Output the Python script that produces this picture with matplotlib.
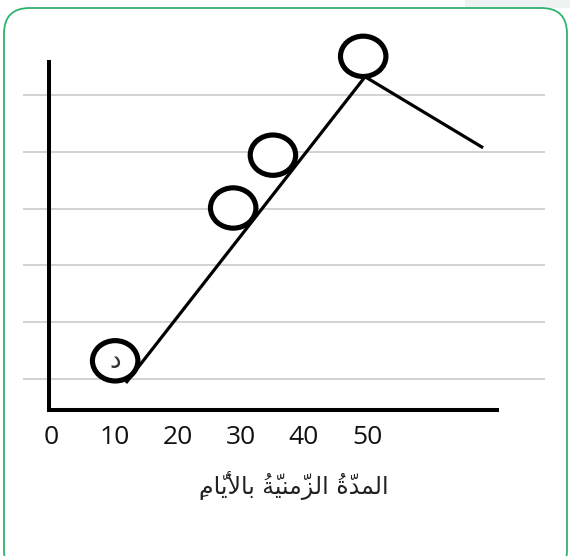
import matplotlib
matplotlib.use("Agg")
import matplotlib.pyplot as plt
from matplotlib.patches import Ellipse, FancyBboxPatch, Rectangle

# line of the graph (days, value)
line_x = [11.8, 49.7, 68.4]
line_y = [0.93, 6.32, 5.07]

# circled points
circle_x = [10.1, 28.8, 35.1, 49.4]
circle_y = [1.32, 4.01, 4.94, 6.68]
circle_text = ["د", "", "", ""]

grid_y = [1, 2, 3, 4, 5, 6]
tick_x = [0, 10, 20, 30, 40, 50]
tick_labels = ["0", "10", "20", "30", "40", "50"]
xlabel = "المدّةُ الزّمنيّةُ بالأيّامِ"

# simple arabic shaping (matplotlib has no text shaping)
FORMS = {
    '\u0627': ('\uFE8D', '\uFE8E', None, None),
    '\u0623': ('\uFE83', '\uFE84', None, None),
    '\u0628': ('\uFE8F', '\uFE90', '\uFE91', '\uFE92'),
    '\u0629': ('\uFE93', '\uFE94', None, None),
    '\u062F': ('\uFEA9', '\uFEAA', None, None),
    '\u0632': ('\uFEAF', '\uFEB0', None, None),
    '\u0644': ('\uFEDD', '\uFEDE', '\uFEDF', '\uFEE0'),
    '\u0645': ('\uFEE1', '\uFEE2', '\uFEE3', '\uFEE4'),
    '\u0646': ('\uFEE5', '\uFEE6', '\uFEE7', '\uFEE8'),
    '\u064A': ('\uFEF1', '\uFEF2', '\uFEF3', '\uFEF4'),
}
LAM_ALEF = {'\u0627': ('\uFEFB', '\uFEFC'), '\u0623': ('\uFEF7', '\uFEF8')}


def shape(text):
    clusters = []
    for ch in text:
        if 0x064B <= ord(ch) <= 0x0652 and clusters:
            clusters[-1][1] += ch
        else:
            clusters.append([ch, ''])
    # lam-alef ligatures
    merged = []
    i = 0
    while i < len(clusters):
        b, m = clusters[i]
        if b == '\u0644' and i + 1 < len(clusters) and clusters[i + 1][0] in LAM_ALEF:
            merged.append(['LA' + clusters[i + 1][0], m + clusters[i + 1][1]])
            i += 2
        else:
            merged.append([b, m])
            i += 1

    def joins_left(b):
        return b in FORMS and FORMS[b][2] is not None

    def joins_right(b):
        return b in FORMS or b.startswith('LA')

    out = []
    for i, (b, m) in enumerate(merged):
        prev = merged[i - 1][0] if i > 0 else ' '
        nxt = merged[i + 1][0] if i + 1 < len(merged) else ' '
        jr = joins_right(b) and joins_left(prev)
        if b.startswith('LA'):
            g = LAM_ALEF[b[2]][1 if jr else 0]
        elif b in FORMS:
            jl = joins_left(b) and joins_right(nxt)
            f = FORMS[b]
            if jr and jl:
                g = f[3]
            elif jr:
                g = f[1]
            elif jl:
                g = f[2]
            else:
                g = f[0]
        else:
            g = b
        # marks have no advance and sit over the following glyph
        out.append(m + g)
    return ''.join(reversed(out))


W, H = 570, 556
fig = plt.figure(figsize=(W / 100, H / 100), dpi=100)

# green rounded frame and faint tab
fig.patches.append(Rectangle((465 / W, 1 - 8 / H), 105 / W, 8 / H, transform=fig.transFigure,
                             facecolor="#eef2f2", edgecolor="none", zorder=-3))
fig.patches.append(FancyBboxPatch((4 / W, -20 / H), 563 / W, (H - 8 + 20) / H,
                                  boxstyle="round,pad=0,rounding_size=0.045",
                                  mutation_aspect=W / H, transform=fig.transFigure,
                                  facecolor="white", edgecolor="#2fb36d", linewidth=1.3, zorder=-2))

ax = fig.add_axes([48.7 / W, 146 / H, 448.3 / W, 348 / H])
ax.set_facecolor("none")
ax.set_xlim(-0.43, 70.6)
ax.set_ylim(0.454, 6.58)

ax.hlines(grid_y, -4.5, 78.2, colors="#c6c6c6", linewidth=1.1, clip_on=False, zorder=1)

ax.plot(line_x, line_y, color="black", linewidth=2.3, solid_capstyle="butt", zorder=3, clip_on=False)

for cx, cy, t in zip(circle_x, circle_y, circle_text):
    ax.add_patch(Ellipse((cx, cy), 7.2, 0.71, facecolor="white", edgecolor="black",
                         linewidth=3.7, zorder=4, clip_on=False))
    if t:
        ax.text(cx, cy, shape(t), ha="center", va="center", fontsize=19,
                family="DejaVu Sans", color="#333333", zorder=5)

for side in ["top", "right"]:
    ax.spines[side].set_visible(False)
for side in ["left", "bottom"]:
    ax.spines[side].set_linewidth(2.9)
    ax.spines[side].set_capstyle("projecting")

ax.set_yticks([])
ax.set_xticks(tick_x)
ax.set_xticklabels(tick_labels, family="Open Sans", fontsize=19, color="#111111")
ax.tick_params(axis="x", length=0, pad=11)

fig.text(294 / W, 1 - 485 / H, shape(xlabel), ha="center", va="center",
         family="DejaVu Sans", fontsize=17, color="#222222")

fig.savefig("out.png", dpi=100)
